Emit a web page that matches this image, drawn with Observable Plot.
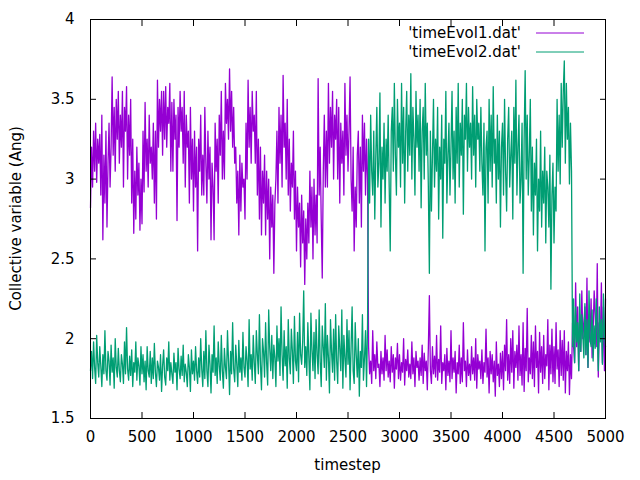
<!DOCTYPE html>
<html>
<head>
<meta charset="utf-8">
<script src="https://cdn.jsdelivr.net/npm/d3@7"></script>
<script src="https://cdn.jsdelivr.net/npm/@observablehq/plot@0.6"></script>
<style>
  html, body { margin: 0; padding: 0; background: #fff; }
  svg { display: block; }
</style>
</head>
<body>
<div id="chart"></div>
<script>
// Two collective-variable trajectories, sampled every 10 timesteps
// (one row of ten values per 100 timesteps).
const seriesNames = ["'timeEvol1.dat'", "'timeEvol2.dat'"];
const seriesColors = ["#9400d3", "#009e73"];
const timesteps = d3.range(0, 5001, 10);

const evol1 = [
  2.82,3.20,2.95,3.30,3.05,3.35,2.98,3.25,3.10,3.28,
  2.90,3.40,2.62,3.15,2.85,3.30,2.70,3.10,3.35,2.95,
  3.20,3.64,3.15,3.45,3.05,3.50,3.25,3.55,3.10,3.40,
  3.20,3.55,2.95,3.45,3.30,3.58,3.00,3.40,3.15,3.50,
  2.85,3.25,2.66,3.05,2.75,3.20,2.90,3.10,2.68,3.00,
  2.72,3.30,2.92,3.48,3.05,3.25,2.95,3.40,3.10,3.20,
  3.00,3.35,2.85,3.30,2.75,3.62,3.20,3.50,3.30,3.55,
  3.15,3.55,3.25,3.58,3.20,3.45,3.35,3.60,3.05,3.48,
  3.05,3.50,3.25,3.40,2.74,3.45,3.20,3.55,3.30,3.45,
  3.10,3.55,2.95,3.40,3.20,3.30,2.85,3.45,3.00,3.25,
  2.80,3.30,2.95,3.20,2.55,3.25,3.05,3.40,2.90,3.15,
  2.90,3.45,3.10,2.85,3.30,3.00,3.20,2.62,3.10,2.95,
  2.62,3.35,3.05,3.25,2.85,3.40,3.15,3.55,3.00,3.30,
  3.00,3.60,3.35,3.50,3.25,3.69,3.30,3.55,3.20,3.45,
  3.10,3.20,2.85,3.05,2.65,3.15,2.80,3.10,2.95,3.00,
  2.75,3.35,3.00,3.62,3.20,3.45,3.10,3.55,3.30,3.40,
  3.10,3.55,2.90,3.25,2.75,3.20,2.65,3.05,2.85,3.15,
  2.65,3.05,2.75,3.00,2.50,2.95,2.70,2.90,2.41,2.85,
  3.00,3.30,2.85,3.45,3.10,3.40,2.95,3.65,3.20,3.35,
  3.00,3.50,2.90,3.25,2.80,3.10,2.95,3.30,2.75,3.05,
  2.55,2.95,2.70,2.85,2.45,2.90,2.60,2.80,2.34,2.75,
  2.50,2.85,2.60,3.05,2.70,2.95,2.50,3.00,2.65,2.90,
  2.60,3.63,2.90,3.20,2.75,2.38,3.05,3.40,2.95,3.30,
  2.95,3.60,3.10,3.45,3.20,3.55,3.00,3.40,3.25,3.50,
  3.00,3.45,2.85,3.35,3.10,3.30,2.90,3.60,3.15,3.40,
  3.05,3.30,3.64,3.00,2.80,3.20,2.55,2.95,2.70,3.15,
  3.30,2.85,3.20,2.70,3.40,3.05,3.35,2.90,3.25,3.00,
  1.95,1.78,1.86,1.72,2.05,1.80,1.90,1.75,1.98,1.82,
  1.84,1.70,1.92,1.78,1.88,1.74,2.02,1.80,1.93,1.76,
  1.86,1.73,1.95,1.79,1.90,1.69,1.88,1.81,1.97,1.75,
  1.90,1.74,1.85,1.79,2.00,1.71,1.87,1.80,1.93,1.76,
  1.84,1.75,1.98,1.78,1.88,1.70,1.92,1.82,1.86,1.74,
  1.88,1.77,1.96,1.72,1.91,1.80,1.86,1.68,1.94,2.27,
  1.80,1.72,1.95,1.78,1.89,1.76,2.02,1.74,1.87,1.79,
  2.08,1.72,1.85,1.80,1.90,1.68,1.94,1.77,1.86,1.73,
  2.05,1.75,1.88,1.79,1.92,1.66,1.85,1.78,1.96,1.72,
  1.88,1.73,2.10,1.80,1.86,1.70,1.93,1.77,1.84,1.74,
  1.95,1.78,1.88,1.74,2.00,1.69,1.90,1.81,1.86,1.75,
  1.93,1.72,1.85,1.79,2.06,1.76,1.88,1.66,1.92,1.78,
  1.90,1.73,1.86,1.64,1.98,1.77,1.84,1.70,1.91,1.75,
  1.92,1.68,1.96,1.80,2.12,1.74,1.90,1.72,2.00,1.79,
  2.05,1.69,1.92,1.82,1.96,1.74,2.08,1.77,1.90,1.71,
  2.10,1.67,1.94,1.80,2.19,1.73,1.88,1.78,2.02,1.75,
  1.98,1.70,2.08,1.82,1.92,1.66,2.04,1.79,1.95,1.72,
  2.02,1.75,1.90,1.83,2.12,1.68,1.96,1.78,2.06,1.73,
  1.95,1.72,2.10,1.81,1.93,1.70,2.05,1.77,1.99,1.74,
  2.05,1.66,1.92,1.80,1.98,1.65,1.90,1.75,2.10,1.95,
  1.85,2.35,1.95,2.20,1.80,2.15,1.92,2.30,2.00,2.10,
  2.20,1.90,2.38,1.82,2.15,1.98,2.25,1.88,2.05,2.30,
  2.15,1.95,2.47,1.76,2.10,2.00,2.35,1.85,2.20,1.80,
  2.25
];

const evol2 = [
  1.80,1.92,1.75,1.98,1.82,1.72,2.02,1.85,1.76,1.95,
  1.83,1.70,1.90,1.78,2.05,1.80,1.74,1.92,1.86,1.71,
  1.96,1.79,1.88,1.69,2.00,1.82,1.76,1.94,1.80,1.73,
  1.90,1.84,1.72,1.98,1.78,2.07,1.81,1.74,1.89,1.77,
  1.93,1.70,1.85,1.79,1.98,1.74,1.88,1.83,1.71,1.95,
  1.78,1.90,1.73,1.86,1.68,1.95,1.80,1.76,1.92,1.72,
  1.88,1.75,1.97,1.79,1.70,1.86,1.82,1.74,1.90,1.67,
  1.83,1.93,1.76,1.71,1.88,1.80,1.98,1.74,1.85,1.78,
  1.72,1.91,1.79,1.85,1.68,1.94,1.81,1.75,1.89,1.77,
  1.96,1.73,1.84,1.79,1.70,1.90,1.82,1.67,1.93,1.78,
  1.86,1.74,1.95,1.80,1.72,1.88,1.76,2.00,1.81,1.70,
  1.92,1.75,2.05,1.80,1.70,1.96,1.84,1.66,1.90,1.79,
  2.08,1.77,1.88,1.72,1.98,1.83,1.74,2.02,1.80,1.69,
  1.94,1.82,1.75,2.05,1.86,1.65,1.92,1.78,2.10,1.81,
  1.73,1.96,1.84,1.70,1.99,1.79,1.88,1.74,2.04,1.82,
  1.76,1.95,1.86,1.70,2.12,1.81,1.90,1.74,2.02,1.85,
  1.72,2.05,1.90,1.78,2.15,1.84,1.68,2.00,1.92,1.76,
  2.10,1.85,1.71,2.18,1.94,1.80,2.02,1.75,1.96,1.88,
  1.70,2.08,1.86,2.00,1.77,2.20,1.90,1.74,2.05,1.83,
  1.95,1.69,2.12,1.88,1.78,2.06,1.92,1.72,2.14,1.86,
  1.80,2.04,1.73,2.16,1.90,1.84,1.98,2.30,1.82,1.95,
  1.77,2.10,1.88,1.68,2.16,1.93,1.80,2.04,1.75,2.12,
  1.90,1.78,2.18,1.86,1.70,2.08,1.95,1.82,2.22,1.74,
  2.02,1.88,1.66,2.12,1.92,1.79,2.06,1.74,2.15,1.86,
  1.72,2.08,1.94,1.80,2.18,1.69,2.02,1.88,1.76,2.12,
  1.84,2.05,1.68,1.95,2.20,1.80,1.72,2.10,1.90,1.76,
  2.00,1.64,1.92,1.82,2.15,1.74,1.88,2.05,1.70,2.10,
  3.25,2.85,3.40,3.05,2.90,3.30,2.75,3.15,3.45,2.95,
  3.10,3.54,2.70,3.20,3.00,3.35,2.85,3.25,3.05,3.40,
  2.95,2.55,3.30,3.45,3.05,3.60,3.15,2.90,3.50,3.20,
  3.35,2.95,3.60,3.10,3.45,2.85,3.30,3.55,3.05,3.40,
  3.15,3.66,3.00,3.45,3.25,2.90,3.55,3.20,3.40,3.05,
  3.50,2.82,3.30,3.45,3.00,3.60,3.15,3.35,2.95,2.41,
  3.30,2.80,3.15,3.50,2.95,3.25,3.05,3.45,2.75,3.20,
  3.00,3.40,2.63,3.25,3.10,3.55,2.85,3.15,3.35,2.90,
  3.20,3.55,3.00,3.30,2.85,3.45,3.10,3.60,2.95,3.35,
  3.15,3.50,2.78,3.40,3.25,3.60,3.05,3.45,3.20,3.35,
  3.00,3.58,3.15,3.40,2.95,3.50,3.25,3.35,3.05,3.45,
  3.10,2.90,3.35,2.55,3.20,3.30,2.85,3.50,3.05,3.40,
  2.95,3.58,3.10,3.25,2.85,3.40,3.00,3.30,2.70,3.20,
  3.35,2.90,3.50,3.05,2.80,3.25,3.45,2.95,3.15,3.30,
  2.75,3.45,3.10,3.62,2.90,3.20,3.40,2.85,3.00,3.35,
  2.41,3.25,3.68,3.00,3.40,2.90,3.15,3.50,2.80,3.20,
  2.65,3.10,2.90,3.25,2.55,3.00,2.80,3.30,2.70,3.05,
  2.85,3.20,2.60,3.05,2.95,2.70,3.15,2.31,2.90,3.10,
  2.60,2.95,2.80,3.50,3.05,3.40,2.97,3.60,3.20,3.55,
  3.74,3.10,3.60,3.25,3.45,2.97,3.35,3.05,1.95,2.25,
  1.85,2.20,1.98,2.10,1.80,2.28,1.92,2.15,2.02,1.88,
  2.22,1.90,2.12,1.82,2.30,2.00,1.95,2.18,1.86,2.08,
  1.94,2.25,2.05,1.80,2.20,1.98,2.12,1.84,2.28,2.02,
  1.95
];

const xTicks = [0, 500, 1000, 1500, 2000, 2500, 3000, 3500, 4000, 4500, 5000];
const yTicks = [1.5, 2, 2.5, 3, 3.5, 4];
const yTickLabels = ["1.5", "2", "2.5", "3", "3.5", "4"];
const xLabel = "timestep";
const yLabel = "Collective variable (Ang)";

const rows = [evol1, evol2].flatMap((vals, s) =>
  vals.map((v, i) => ({t: timesteps[i], v, series: seriesNames[s]}))
);

const blank = () => "";

const chart = Plot.plot({
  width: 640,
  height: 480,
  marginLeft: 90,
  marginRight: 35,
  marginTop: 19,
  marginBottom: 62,
  style: {fontFamily: "'DejaVu Sans', sans-serif", fontSize: "15px", background: "#fff", color: "#000"},
  x: {domain: [0, 5000]},
  y: {domain: [1.5, 4]},
  color: {domain: seriesNames, range: seriesColors},
  marks: [
    Plot.line(rows, {x: "t", y: "v", z: "series", stroke: "series", strokeWidth: 1.3}),
    Plot.frame({stroke: "#000", strokeWidth: 1}),
    Plot.axisX({anchor: "bottom", ticks: xTicks, tickSize: -6, tickPadding: 19,
      tickFormat: (d) => String(d), label: null, stroke: "#000"}),
    Plot.axisX({anchor: "top", ticks: xTicks, tickSize: -6, tickFormat: blank, label: null, stroke: "#000"}),
    Plot.axisY({anchor: "left", ticks: yTicks, tickSize: -6, tickPadding: 22,
      tickFormat: (d) => yTickLabels[yTicks.indexOf(d)], label: null, stroke: "#000"}),
    Plot.axisY({anchor: "right", ticks: yTicks, tickSize: -6, tickFormat: blank, label: null, stroke: "#000"})
  ]
});

document.getElementById("chart").appendChild(chart);

// Axis titles and the key, placed in the plot's own SVG.
const svg = d3.select(chart);
const font = "'DejaVu Sans', sans-serif";

svg.append("text")
  .attr("x", 347.5).attr("y", 470)
  .attr("text-anchor", "middle")
  .style("font-family", font).style("font-size", "15px")
  .attr("fill", "#000")
  .text(xLabel);

svg.append("text")
  .attr("transform", "translate(21,218.5) rotate(-90)")
  .attr("text-anchor", "middle")
  .style("font-family", font).style("font-size", "15px")
  .attr("fill", "#000")
  .text(yLabel);

const key = svg.append("g");
seriesNames.forEach((name, i) => {
  const yy = 33 + i * 19;
  key.append("text")
    .attr("x", 521).attr("y", yy).attr("dy", "0.35em")
    .attr("text-anchor", "end")
    .style("font-family", font).style("font-size", "15px")
    .attr("fill", "#000")
    .text(name);
  key.append("line")
    .attr("x1", 536).attr("x2", 584).attr("y1", yy).attr("y2", yy)
    .attr("stroke", seriesColors[i]).attr("stroke-width", 1);
});
</script>
</body>
</html>
